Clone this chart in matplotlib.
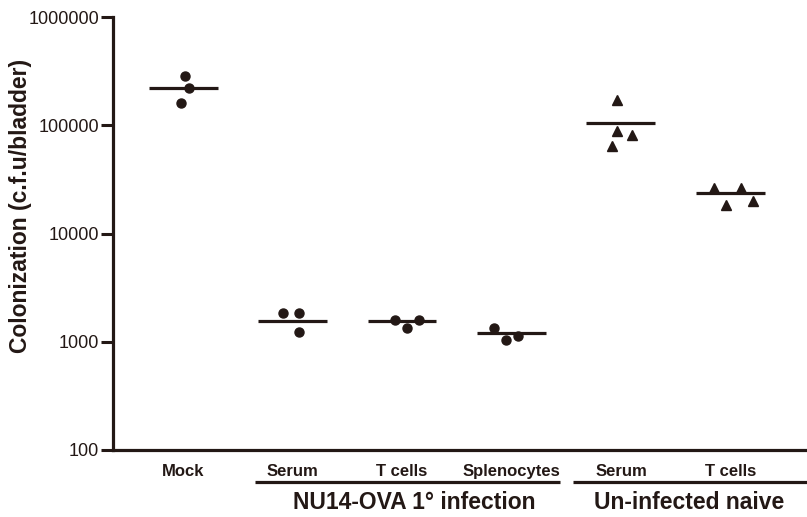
import matplotlib
matplotlib.use("Agg")
import matplotlib.pyplot as plt
import matplotlib.transforms as mtransforms

plt.rcParams['font.family'] = ['Liberation Sans', 'DejaVu Sans']

# ---- data ----
categories = ["Mock", "Serum", "T cells", "Splenocytes", "Serum", "T cells"]
values = [
    [285000, 221000, 162000],
    [1860, 1860, 1230],
    [1580, 1340, 1580],
    [1340, 1040, 1130],
    [172000, 89000, 81600, 63700],
    [26400, 18400, 26400, 20100],
]
means = [221000, 1546, 1560, 1205, 106000, 23600]
markers = ["o", "o", "o", "o", "^", "^"]
jitter = [
    [0.02, 0.05, -0.02],
    [-0.09, 0.06, 0.06],
    [-0.06, 0.05, 0.16],
    [-0.16, -0.05, 0.06],
    [-0.04, -0.04, 0.10, -0.08],
    [-0.15, -0.04, 0.10, 0.21],
]
groups = ["NU14-OVA 1\u00b0 infection", "Un-infected naive"]
group_spans = [(0.66, 3.44), (3.56, 5.75)]
group_label_x = [2.11, 4.62]
yticks = [100, 1000, 10000, 100000, 1000000]
ytick_labels = ["100", "1000", "10000", "100000", "1000000"]

color = "#231815"

fig = plt.figure(figsize=(8.07, 5.17), dpi=100)
ax = fig.add_axes([113 / 807, 67 / 517, (807 - 113) / 807, 433 / 517])

for i, (vals, jit, m) in enumerate(zip(values, jitter, markers)):
    xs = [i + j for j in jit]
    ax.plot(xs, vals, linestyle="none", marker=m,
            markersize=6.5 if m == "o" else 7.2, color=color, zorder=3)
    ax.plot([i - 0.315, i + 0.315], [means[i], means[i]], color=color,
            lw=2.3, solid_capstyle="butt", zorder=2)

ax.set_yscale("log")
ax.set_ylim(100, 1000000)
ax.set_xlim(-0.64, 5.70)
ax.set_yticks(yticks)
ax.set_yticklabels(ytick_labels)
ax.minorticks_off()
ax.set_xticks(range(len(categories)))
ax.set_xticklabels(categories, fontweight="bold", fontsize=12)
ax.tick_params(axis="x", length=0, pad=10, colors=color)
ax.tick_params(axis="y", length=9, width=2.2, pad=1, labelsize=13,
               colors=color)

for s in ["top", "right"]:
    ax.spines[s].set_visible(False)
for s in ["left", "bottom"]:
    ax.spines[s].set_linewidth(2.3)
    ax.spines[s].set_color(color)
    ax.spines[s].set_capstyle("projecting")

ax.set_ylabel("Colonization (c.f.u/bladder)", fontweight="bold",
              fontsize=16.5, color=color)
ax.yaxis.set_label_coords(-0.117, 0.563)

trans = mtransforms.blended_transform_factory(ax.transData, ax.transAxes)
for name, (a, b), xc in zip(groups, group_spans, group_label_x):
    ax.plot([a, b], [-0.074, -0.074], transform=trans, color=color, lw=2.3,
            clip_on=False, solid_capstyle="butt")
    ax.text(xc, -0.122, name, transform=trans, ha="center", va="center",
            fontweight="bold", fontsize=16.5, color=color)

fig.savefig("out.png", dpi=100)
